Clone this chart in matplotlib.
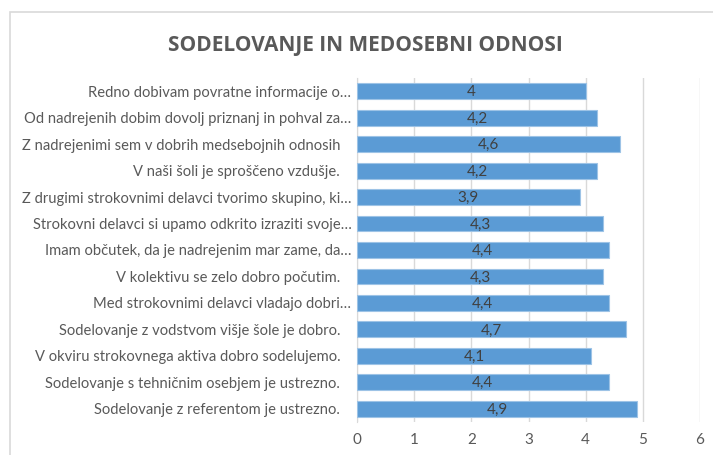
import matplotlib.pyplot as plt
from matplotlib.patches import Rectangle

# podatki (od zgoraj navzdol)
labels = [
    "Redno dobivam povratne informacije o…",
    "Od nadrejenih dobim dovolj priznanj in pohval za…",
    "Z nadrejenimi sem v dobrih medsebojnih odnosih   ",
    "V naši šoli je sproščeno vzdušje.   ",
    "Z drugimi strokovnimi delavci tvorimo skupino, ki…",
    "Strokovni delavci si upamo odkrito izraziti svoje…",
    "Imam občutek, da je nadrejenim mar zame, da…",
    "V kolektivu se zelo dobro počutim.   ",
    "Med strokovnimi delavci vladajo dobri…",
    "Sodelovanje z vodstvom višje šole je dobro.   ",
    "V okviru strokovnega aktiva dobro sodelujemo.   ",
    "Sodelovanje s tehničnim osebjem je ustrezno.   ",
    "Sodelovanje z referentom je ustrezno.   ",
]
values = [4.0, 4.2, 4.6, 4.2, 3.9, 4.3, 4.4, 4.3, 4.4, 4.7, 4.1, 4.4, 4.9]
value_text = ["4", "4,2", "4,6", "4,2", "3,9", "4,3", "4,4", "4,3", "4,4", "4,7", "4,1", "4,4", "4,9"]
xticks = [0, 1, 2, 3, 4, 5, 6]

plt.rcParams['font.family'] = ['Lato', 'DejaVu Sans']

fig = plt.figure(figsize=(7.13, 4.55), dpi=100)
fig.patches.append(Rectangle((10 / 713, -0.01), 1.0, 1 - 12 / 455 + 0.01,
                             transform=fig.transFigure, fill=False,
                             edgecolor='#D9D9D9', linewidth=1.2))

ax = fig.add_axes([357 / 713, 33 / 455, 343 / 713, 344 / 455])
pos = list(range(len(values)))
bars = ax.barh(pos, values, height=0.6, color='#5B9BD5', edgecolor='#9DC3E6', linewidth=0.8, zorder=3)
for b, t in zip(bars, value_text):
    ax.text(b.get_width() / 2, b.get_y() + b.get_height() / 2 + 0.04, t,
            ha='center', va='center', fontsize=11, color='#404040', zorder=4)

ax.set_ylim(len(values) - 0.5, -0.5)
ax.set_xlim(0, 6)
ax.set_yticks(pos)
ax.set_yticklabels(labels, fontsize=10.6, color='#595959')
ax.set_xticks(xticks)
ax.set_xticklabels([str(x) for x in xticks], fontsize=11, color='#595959')
ax.tick_params(axis='both', length=0)
ax.tick_params(axis='y', pad=4)
ax.tick_params(axis='x', pad=8)
ax.grid(axis='x', color='#D9D9D9', linewidth=1, zorder=0)
for s in ['top', 'right', 'bottom']:
    ax.spines[s].set_visible(False)
ax.spines['left'].set_color('#D9D9D9')

fig.text(365 / 713, 1 - 45 / 455, "SODELOVANJE IN MEDOSEBNI ODNOSI", ha='center', va='center',
         fontsize=15, color='#595959', fontweight='bold', family=['Open Sans', 'DejaVu Sans'])

fig.savefig('out.png', dpi=100)
